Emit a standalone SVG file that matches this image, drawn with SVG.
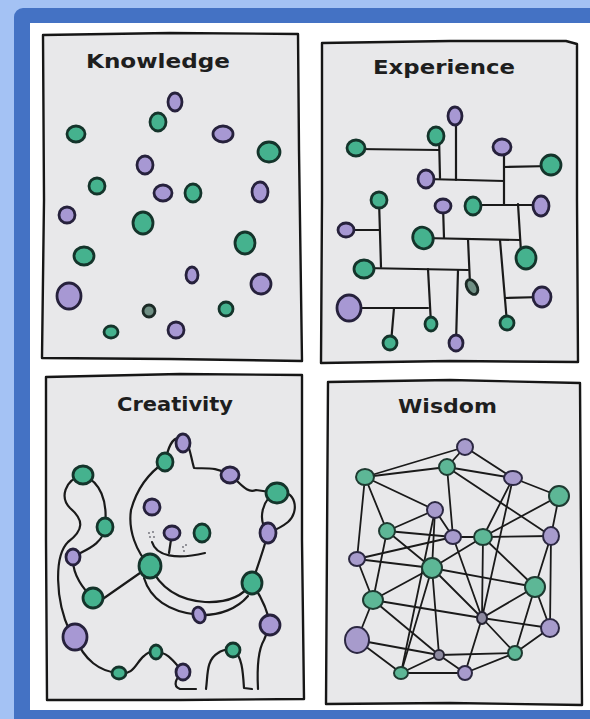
<svg xmlns="http://www.w3.org/2000/svg" width="590" height="719" viewBox="0 0 590 719">
  <style>
    .g { fill: #45b28e; stroke: #14342b; stroke-width: 2.8; }
    .p { fill: #a798d3; stroke: #26213c; stroke-width: 2.8; }
    .d { fill: #6f8f84; stroke: #1c2a26; stroke-width: 2.8; }
    .wg { fill: #5db796; stroke: #1e3a31; stroke-width: 2; }
    .wp { fill: #a79bcc; stroke: #2c2842; stroke-width: 2; }
    .wd { fill: #8d8aa0; stroke: #262433; stroke-width: 2; }
    .panel { fill: #e8e8ea; stroke: #161616; stroke-width: 2.4; stroke-linejoin: round; }
    .wire { fill: none; stroke: #1a1a1a; stroke-width: 2.2; stroke-linecap: round; stroke-linejoin: round; }
    .thin { fill: none; stroke: #1a1a1a; stroke-width: 1.8; stroke-linecap: round; }
    .title { font-family: "DejaVu Sans", "Liberation Sans", sans-serif; font-weight: bold; font-size: 19px; fill: #1e1e1e; text-anchor: start; }
    .dot { fill: #6a6a74; }
  </style>

  <!-- frame -->
  <rect x="0" y="0" width="590" height="719" fill="#a4c2f4"/>
  <rect x="14" y="8" width="600" height="730" rx="9" fill="#4472c4"/>
  <rect x="30" y="23" width="560" height="687" fill="#ffffff"/>

  <!-- panel: Knowledge -->
  <g id="panel-knowledge">
    <path class="panel" d="M43 35 L170 33 L298 34 L299 150 L302 361 L170 359 L42 358 L44 200 Z"/>
    <text class="title" x="86" y="68" textLength="144" lengthAdjust="spacingAndGlyphs">Knowledge</text>
  </g>
  <g id="knowledge-nodes">
    <g id="k1"><ellipse class="p" cx="175" cy="102" rx="7" ry="9"/></g>
    <g id="k2"><ellipse class="g" cx="158" cy="122" rx="8" ry="9"/></g>
    <g id="k3"><ellipse class="g" cx="76" cy="134" rx="9" ry="8"/></g>
    <g id="k4"><ellipse class="p" cx="223" cy="134" rx="10" ry="8"/></g>
    <g id="k5"><ellipse class="g" cx="269" cy="152" rx="11" ry="10"/></g>
    <g id="k6"><ellipse class="p" cx="145" cy="165" rx="8" ry="9"/></g>
    <g id="k7"><ellipse class="g" cx="97" cy="186" rx="8" ry="8"/></g>
    <g id="k8"><ellipse class="p" cx="163" cy="193" rx="9" ry="8"/></g>
    <g id="k9"><ellipse class="g" cx="193" cy="193" rx="8" ry="9"/></g>
    <g id="k10"><ellipse class="p" cx="260" cy="192" rx="8" ry="10"/></g>
    <g id="k11"><ellipse class="p" cx="67" cy="215" rx="8" ry="8"/></g>
    <g id="k12"><ellipse class="g" cx="143" cy="223" rx="10" ry="11"/></g>
    <g id="k13"><ellipse class="g" cx="245" cy="243" rx="10" ry="11"/></g>
    <g id="k14"><ellipse class="g" cx="84" cy="256" rx="10" ry="9"/></g>
    <g id="k15"><ellipse class="p" cx="192" cy="275" rx="6" ry="8"/></g>
    <g id="k16"><ellipse class="p" cx="261" cy="284" rx="10" ry="10"/></g>
    <g id="k17"><ellipse class="p" cx="69" cy="296" rx="12" ry="13"/></g>
    <g id="k18"><ellipse class="d" cx="149" cy="311" rx="6" ry="6"/></g>
    <g id="k19"><ellipse class="g" cx="226" cy="309" rx="7" ry="7"/></g>
    <g id="k20"><ellipse class="g" cx="111" cy="332" rx="7" ry="6"/></g>
    <g id="k21"><ellipse class="p" cx="176" cy="330" rx="8" ry="8"/></g>
  </g>

  <!-- panel: Experience -->
  <g id="panel-experience">
    <path class="panel" d="M322 43 L450 41 L566 41 L577 44 L577 200 L578 362 L450 361 L321 363 L322 200 Z"/>
    <text class="title" x="373" y="74" textLength="142" lengthAdjust="spacingAndGlyphs">Experience</text>
  </g>
  <g id="experience-connectors">
    <path class="wire" d="M356 149 L439 150"/>
    <path class="wire" d="M439 136 L440 178"/>
    <path class="wire" d="M426 179 L504 181"/>
    <path class="wire" d="M456 116 L456 180"/>
    <path class="wire" d="M504 147 L504 204"/>
    <path class="wire" d="M504 167 L551 166"/>
    <path class="wire" d="M473 205 L541 205"/>
    <path class="wire" d="M518 204 L521 252"/>
    <path class="wire" d="M423 238 L520 240"/>
    <path class="wire" d="M443 206 L444 238"/>
    <path class="wire" d="M468 239 L470 284"/>
    <path class="wire" d="M500 240 L507 323"/>
    <path class="wire" d="M505 298 L542 297"/>
    <path class="wire" d="M379 200 L381 267"/>
    <path class="wire" d="M346 230 L380 230"/>
    <path class="wire" d="M364 268 L468 270"/>
    <path class="wire" d="M428 269 L431 324"/>
    <path class="wire" d="M458 270 L456 343"/>
    <path class="wire" d="M349 308 L428 308"/>
    <path class="wire" d="M394 308 L391 343"/>
  </g>
  <g id="experience-nodes">
    <g id="e1"><ellipse class="p" cx="455" cy="116" rx="7" ry="9"/></g>
    <g id="e2"><ellipse class="g" cx="436" cy="136" rx="8" ry="9"/></g>
    <g id="e3"><ellipse class="g" cx="356" cy="148" rx="9" ry="8"/></g>
    <g id="e4"><ellipse class="p" cx="502" cy="147" rx="9" ry="8"/></g>
    <g id="e5"><ellipse class="g" cx="551" cy="165" rx="10" ry="10"/></g>
    <g id="e6"><ellipse class="p" cx="426" cy="179" rx="8" ry="9"/></g>
    <g id="e7"><ellipse class="g" cx="379" cy="200" rx="8" ry="8"/></g>
    <g id="e8"><ellipse class="p" cx="443" cy="206" rx="8" ry="7"/></g>
    <g id="e9"><ellipse class="g" cx="473" cy="206" rx="8" ry="9"/></g>
    <g id="e10"><ellipse class="p" cx="541" cy="206" rx="8" ry="10"/></g>
    <g id="e11"><ellipse class="p" cx="346" cy="230" rx="8" ry="7"/></g>
    <g id="e12"><ellipse class="g" cx="423" cy="238" rx="10" ry="11" transform="rotate(-30 423 238)"/></g>
    <g id="e13"><ellipse class="g" cx="526" cy="258" rx="10" ry="11"/></g>
    <g id="e14"><ellipse class="g" cx="364" cy="269" rx="10" ry="9"/></g>
    <g id="e15"><ellipse class="d" cx="472" cy="287" rx="5" ry="8" transform="rotate(-30 472 287)"/></g>
    <g id="e16"><ellipse class="p" cx="542" cy="297" rx="9" ry="10"/></g>
    <g id="e17"><ellipse class="p" cx="349" cy="308" rx="12" ry="13"/></g>
    <g id="e18"><ellipse class="g" cx="431" cy="324" rx="6" ry="7"/></g>
    <g id="e19"><ellipse class="g" cx="507" cy="323" rx="7" ry="7"/></g>
    <g id="e20"><ellipse class="g" cx="390" cy="343" rx="7" ry="7"/></g>
    <g id="e21"><ellipse class="p" cx="456" cy="343" rx="7" ry="8"/></g>
  </g>

  <!-- panel: Creativity -->
  <g id="panel-creativity">
    <path class="panel" d="M46 377 L180 374 L302 375 L302 540 L304 699 L180 700 L47 700 L46 540 Z"/>
    <text class="title" x="117" y="411" textLength="116" lengthAdjust="spacingAndGlyphs">Creativity</text>
  </g>
  <g id="creativity-connectors">
    <!-- tail, outer strand -->
    <path class="wire" d="M83 475 C64 480 60 498 70 508 C84 520 84 530 68 542 C54 556 55 600 70 632"/>
    <!-- tail, inner strand -->
    <path class="wire" d="M83 475 C100 482 108 500 105 527 C103 545 85 550 73 557 C72 575 84 590 93 598"/>
    <!-- arm -->
    <path class="wire" d="M97 603 L150 566"/>
    <!-- bottom legs -->
    <path class="wire" d="M75 637 C84 660 100 672 119 673 C134 676 136 662 144 656 C148 652 152 651 156 652 C168 652 174 662 183 672 C176 678 172 686 180 689 L196 689"/>
    <path class="wire" d="M206 689 C208 675 206 660 218 653 C222 650 228 649 233 650 C242 655 243 672 244 688 L252 689"/>
    <path class="wire" d="M258 689 C257 670 258 650 264 640 L270 625"/>
    <path class="wire" d="M252 583 C262 598 268 610 270 625"/>
    <!-- head -->
    <path class="wire" d="M165 462 C150 472 137 488 131 510 C128 530 136 552 150 566"/>
    <path class="wire" d="M165 462 C168 448 172 437 180 438 C190 440 190 455 194 468 C204 469 216 466 230 475 C240 482 246 494 256 490 L277 493"/>
    <path class="wire" d="M277 493 C296 488 300 512 288 522 C282 527 273 531 268 533"/>
    <path class="wire" d="M277 493 C262 498 257 520 268 533"/>
    <path class="wire" d="M268 533 C263 552 257 568 252 583"/>
    <!-- jaw and body -->
    <path class="wire" d="M150 566 C160 588 178 600 205 602 C228 603 243 596 252 583"/>
    <path class="wire" d="M144 578 C150 598 168 612 199 615 C220 616 238 608 248 596"/>
    <!-- face -->
    <path class="wire" d="M152 542 C156 556 176 560 205 553"/>
    <path class="wire" d="M172 533 L169 553"/>
  </g>
  <g id="creativity-whiskers">
    <circle class="dot" cx="149" cy="533" r="0.9"/>
    <circle class="dot" cx="153" cy="532" r="0.9"/>
    <circle class="dot" cx="150" cy="537" r="0.9"/>
    <circle class="dot" cx="154" cy="537" r="0.9"/>
    <circle class="dot" cx="183" cy="547" r="0.9"/>
    <circle class="dot" cx="186" cy="545" r="0.9"/>
    <circle class="dot" cx="184" cy="551" r="0.9"/>
  </g>
  <g id="creativity-nodes">
    <g id="c1"><ellipse class="p" cx="183" cy="443" rx="7" ry="9"/></g>
    <g id="c2"><ellipse class="g" cx="165" cy="462" rx="8" ry="9"/></g>
    <g id="c3"><ellipse class="g" cx="83" cy="475" rx="10" ry="9"/></g>
    <g id="c4"><ellipse class="p" cx="230" cy="475" rx="9" ry="8"/></g>
    <g id="c5"><ellipse class="g" cx="277" cy="493" rx="11" ry="10"/></g>
    <g id="c6"><ellipse class="p" cx="152" cy="507" rx="8" ry="8"/></g>
    <g id="c7"><ellipse class="g" cx="105" cy="527" rx="8" ry="9"/></g>
    <g id="c8"><ellipse class="p" cx="268" cy="533" rx="8" ry="10"/></g>
    <g id="c9"><ellipse class="p" cx="172" cy="533" rx="8" ry="7"/></g>
    <g id="c10"><ellipse class="g" cx="202" cy="533" rx="8" ry="9"/></g>
    <g id="c11"><ellipse class="p" cx="73" cy="557" rx="7" ry="8"/></g>
    <g id="c12"><ellipse class="g" cx="150" cy="566" rx="11" ry="12"/></g>
    <g id="c13"><ellipse class="g" cx="252" cy="583" rx="10" ry="11"/></g>
    <g id="c14"><ellipse class="g" cx="93" cy="598" rx="10" ry="10"/></g>
    <g id="c15"><ellipse class="p" cx="199" cy="615" rx="6" ry="8" transform="rotate(-20 199 615)"/></g>
    <g id="c16"><ellipse class="p" cx="270" cy="625" rx="10" ry="10"/></g>
    <g id="c17"><ellipse class="p" cx="75" cy="637" rx="12" ry="13"/></g>
    <g id="c18"><ellipse class="g" cx="156" cy="652" rx="6" ry="7"/></g>
    <g id="c19"><ellipse class="g" cx="233" cy="650" rx="7" ry="7"/></g>
    <g id="c20"><ellipse class="g" cx="119" cy="673" rx="7" ry="6"/></g>
    <g id="c21"><ellipse class="p" cx="183" cy="672" rx="7" ry="8"/></g>
  </g>

  <!-- panel: Wisdom -->
  <g id="panel-wisdom">
    <path class="panel" d="M328 382 L450 380 L580 383 L581 540 L582 705 L450 703 L326 704 L327 540 Z"/>
    <text class="title" x="398" y="413" textLength="99" lengthAdjust="spacingAndGlyphs">Wisdom</text>
  </g>
  <g id="wisdom-connectors" class="thin">
    <path d="M365 477 L465 447"/>
    <path d="M365 477 L447 467"/>
    <path d="M465 447 L447 467"/>
    <path d="M465 447 L513 478"/>
    <path d="M447 467 L513 478"/>
    <path d="M513 478 L559 496"/>
    <path d="M365 477 L435 510"/>
    <path d="M365 477 L357 559"/>
    <path d="M365 477 L387 531"/>
    <path d="M447 467 L453 537"/>
    <path d="M447 467 L551 536"/>
    <path d="M513 478 L483 537"/>
    <path d="M513 478 L482 618"/>
    <path d="M559 496 L551 536"/>
    <path d="M559 496 L483 537"/>
    <path d="M435 510 L387 531"/>
    <path d="M435 510 L453 537"/>
    <path d="M435 510 L432 568"/>
    <path d="M435 510 L401 673"/>
    <path d="M453 537 L482 618"/>
    <path d="M387 531 L453 537"/>
    <path d="M453 537 L483 537"/>
    <path d="M387 531 L373 600"/>
    <path d="M387 531 L432 568"/>
    <path d="M357 559 L453 537"/>
    <path d="M357 559 L432 568"/>
    <path d="M357 559 L373 600"/>
    <path d="M483 537 L432 568"/>
    <path d="M483 537 L482 618"/>
    <path d="M483 537 L551 536"/>
    <path d="M483 537 L535 587"/>
    <path d="M432 568 L535 587"/>
    <path d="M432 568 L373 600"/>
    <path d="M432 568 L482 618"/>
    <path d="M432 568 L439 655"/>
    <path d="M432 568 L401 673"/>
    <path d="M551 536 L535 587"/>
    <path d="M551 536 L550 628"/>
    <path d="M535 587 L550 628"/>
    <path d="M535 587 L515 653"/>
    <path d="M535 587 L482 618"/>
    <path d="M373 600 L482 618"/>
    <path d="M373 600 L439 655"/>
    <path d="M373 600 L357 640"/>
    <path d="M482 618 L550 628"/>
    <path d="M482 618 L515 653"/>
    <path d="M482 618 L465 673"/>
    <path d="M357 640 L439 655"/>
    <path d="M357 640 L401 673"/>
    <path d="M439 655 L515 653"/>
    <path d="M439 655 L401 673"/>
    <path d="M439 655 L465 673"/>
    <path d="M515 653 L465 673"/>
    <path d="M401 673 L465 673"/>
    <path d="M550 628 L515 653"/>
  </g>
  <g id="wisdom-nodes">
    <g id="w1"><ellipse class="wp" cx="465" cy="447" rx="8" ry="8"/></g>
    <g id="w2"><ellipse class="wg" cx="447" cy="467" rx="8" ry="8"/></g>
    <g id="w3"><ellipse class="wg" cx="365" cy="477" rx="9" ry="8"/></g>
    <g id="w4"><ellipse class="wp" cx="513" cy="478" rx="9" ry="7"/></g>
    <g id="w5"><ellipse class="wg" cx="559" cy="496" rx="10" ry="10"/></g>
    <g id="w6"><ellipse class="wp" cx="435" cy="510" rx="8" ry="8"/></g>
    <g id="w7"><ellipse class="wg" cx="387" cy="531" rx="8" ry="8"/></g>
    <g id="w8"><ellipse class="wp" cx="453" cy="537" rx="8" ry="7"/></g>
    <g id="w9"><ellipse class="wg" cx="483" cy="537" rx="9" ry="8"/></g>
    <g id="w10"><ellipse class="wp" cx="551" cy="536" rx="8" ry="9"/></g>
    <g id="w11"><ellipse class="wp" cx="357" cy="559" rx="8" ry="7"/></g>
    <g id="w12"><ellipse class="wg" cx="432" cy="568" rx="10" ry="10"/></g>
    <g id="w13"><ellipse class="wg" cx="535" cy="587" rx="10" ry="10"/></g>
    <g id="w14"><ellipse class="wg" cx="373" cy="600" rx="10" ry="9"/></g>
    <g id="w15"><ellipse class="wd" cx="482" cy="618" rx="5" ry="6"/></g>
    <g id="w16"><ellipse class="wp" cx="550" cy="628" rx="9" ry="9"/></g>
    <g id="w17"><ellipse class="wp" cx="357" cy="640" rx="12" ry="13"/></g>
    <g id="w18"><ellipse class="wd" cx="439" cy="655" rx="5" ry="5"/></g>
    <g id="w19"><ellipse class="wg" cx="515" cy="653" rx="7" ry="7"/></g>
    <g id="w20"><ellipse class="wg" cx="401" cy="673" rx="7" ry="6"/></g>
    <g id="w21"><ellipse class="wp" cx="465" cy="673" rx="7" ry="7"/></g>
  </g>
</svg>
